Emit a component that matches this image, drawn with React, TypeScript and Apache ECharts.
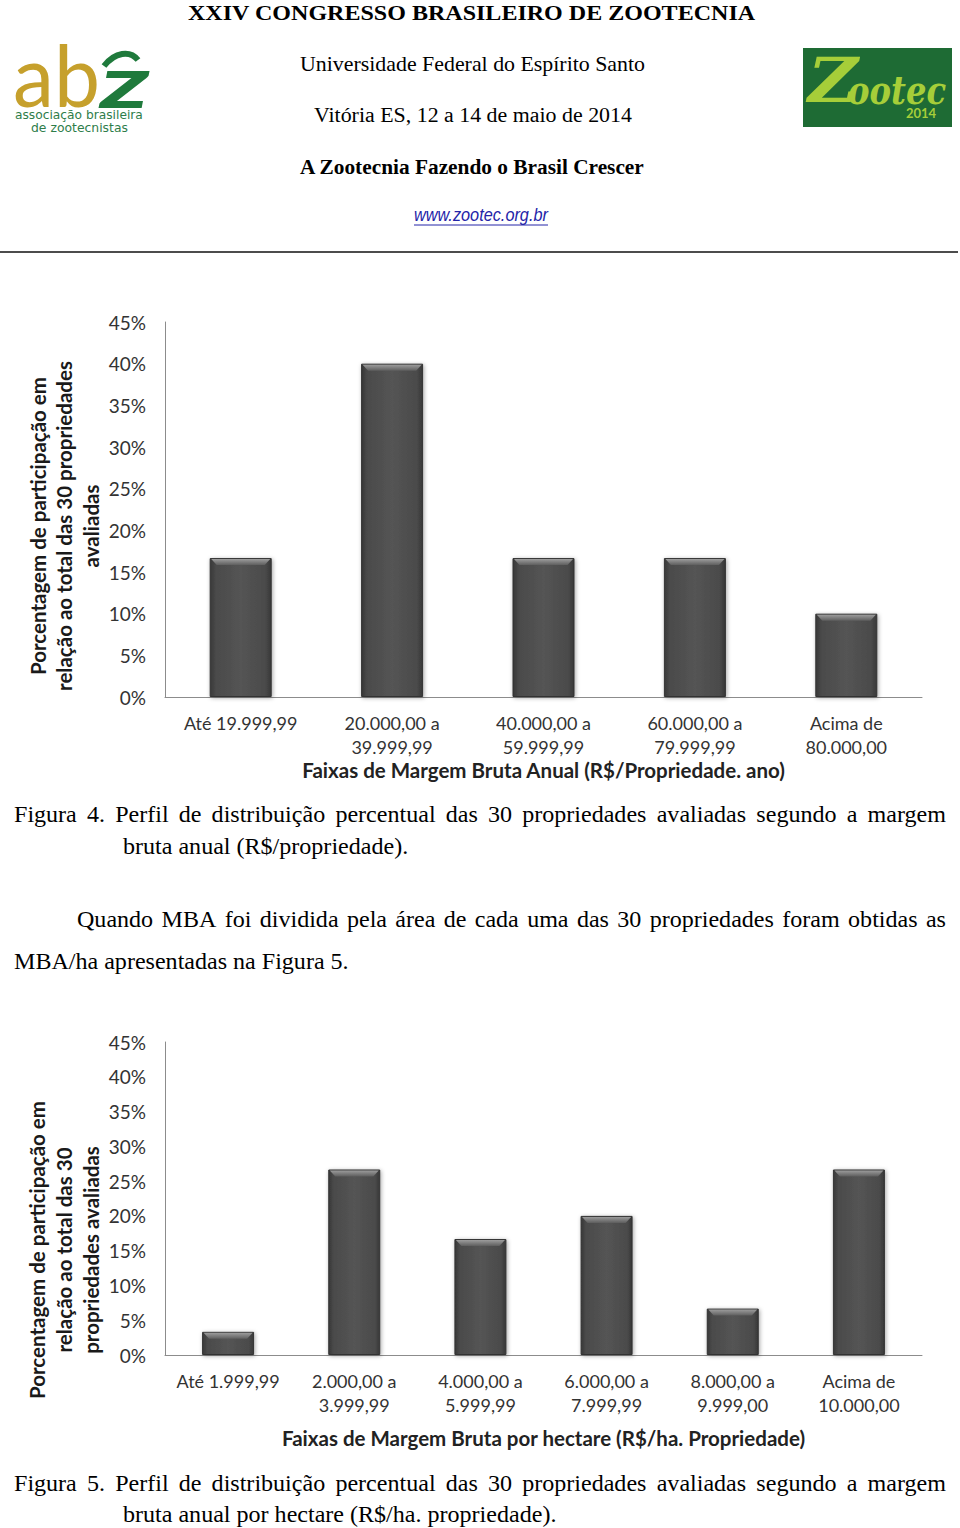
import React, { useEffect, useRef } from 'react';
import * as echarts from 'echarts';

// ---------- DATA ----------
const fig4Categories = [
  'Até 19.999,99',
  '20.000,00 a\n39.999,99',
  '40.000,00 a\n59.999,99',
  '60.000,00 a\n79.999,99',
  'Acima de\n80.000,00',
];
const fig4Values = [16.67, 40.0, 16.67, 16.67, 10.0];

const fig5Categories = [
  'Até 1.999,99',
  '2.000,00 a\n3.999,99',
  '4.000,00 a\n5.999,99',
  '6.000,00 a\n7.999,99',
  '8.000,00 a\n9.999,00',
  'Acima de\n10.000,00',
];
const fig5Values = [3.33, 26.67, 16.67, 20.0, 6.67, 26.67];

const yMin = 0;
const yMax = 45;
const yInterval = 5;

const fig4XTitle = 'Faixas de Margem Bruta Anual (R$/Propriedade. ano)';
const fig5XTitle = 'Faixas de Margem Bruta por hectare (R$/ha. Propriedade)';
const fig4YTitle = 'Porcentagem de participação em\nrelação ao total das 30 propriedades\navaliadas';
const fig5YTitle = 'Porcentagem de participação em\nrelação ao total das 30\npropriedades avaliadas';

const headerLines = [
  'XXIV CONGRESSO BRASILEIRO DE ZOOTECNIA',
  'Universidade Federal do Espírito Santo',
  'Vitória ES, 12 a 14 de maio de 2014',
  'A Zootecnia Fazendo o Brasil Crescer',
  'www.zootec.org.br',
];

const caption4 = [
  'Figura 4. Perfil de distribuição percentual das 30 propriedades avaliadas segundo a margem',
  'bruta anual (R$/propriedade).',
];
const paragraph = [
  'Quando MBA foi dividida pela área de cada uma das 30 propriedades foram obtidas as',
  'MBA/ha apresentadas na Figura 5.',
];
const caption5 = [
  'Figura 5. Perfil de distribuição percentual das 30 propriedades avaliadas segundo a margem',
  'bruta anual por hectare (R$/ha. propriedade).',
];

// ---------- helpers ----------
let mctx: CanvasRenderingContext2D | null = null;
function tw(text: string, font: string): number {
  if (!mctx) mctx = document.createElement('canvas').getContext('2d') as CanvasRenderingContext2D;
  mctx.font = font;
  return mctx.measureText(text).width;
}

function textEl(text: string, x: number, y: number, font: string, sx = 1, fill = '#000', align = 'left', extra: any = {}) {
  return {
    type: 'text',
    x,
    y,
    scaleX: sx,
    originX: 0,
    originY: 0,
    silent: true,
    ...extra,
    style: {
      text,
      font,
      fill,
      textAlign: align,
      align,
      textVerticalAlign: 'middle',
      verticalAlign: 'middle',
      ...(extra.style || {}),
    },
  };
}

function fitLeft(text: string, font: string, left: number, right: number, y: number, fill = '#000') {
  const sx = (right - left) / tw(text, font);
  return textEl(text, left, y, font, sx, fill, 'left');
}

function justified(text: string, font: string, left: number, right: number, y: number, sx: number, fill = '#000') {
  const words = text.split(' ');
  const widths = words.map((w) => tw(w, font) * sx);
  const total = widths.reduce((a, b) => a + b, 0);
  const gap = (right - left - total) / (words.length - 1);
  let x = left;
  return words.map((w, i) => {
    const el = textEl(w, x, y, font, sx, fill, 'left');
    x += widths[i] + gap;
    return el;
  });
}

const barStyle = {
  color: new echarts.graphic.LinearGradient(0, 0, 1, 0, [
    { offset: 0, color: '#383838' },
    { offset: 0.1, color: '#4b4b4b' },
    { offset: 0.5, color: '#545454' },
    { offset: 0.9, color: '#4b4b4b' },
    { offset: 1, color: '#383838' },
  ]),
  borderColor: '#333333',
  borderWidth: 1,
  shadowBlur: 4,
  shadowColor: 'rgba(0,0,0,0.35)',
  shadowOffsetX: 1,
  shadowOffsetY: 1,
};

const labelFont = 'Lato';

function xAxisCfg(gridIndex: number, data: string[], name: string, nameGap: number) {
  return {
    gridIndex,
    type: 'category',
    data,
    axisLine: { show: true, lineStyle: { color: '#8c8c8c', width: 1 } },
    axisTick: { show: false },
    axisLabel: {
      interval: 0,
      margin: 14,
      fontFamily: labelFont,
      fontSize: 18,
      lineHeight: 24,
      color: '#333333',
    },
    name,
    nameLocation: 'middle',
    nameGap,
    nameTextStyle: { fontFamily: labelFont, fontWeight: 'bold', fontSize: 20.5, color: '#222222' },
  };
}

function yAxisCfg(gridIndex: number) {
  return {
    gridIndex,
    type: 'value',
    min: yMin,
    max: yMax,
    interval: yInterval,
    axisLine: { show: true, lineStyle: { color: '#8c8c8c', width: 1 } },
    axisTick: { show: false },
    splitLine: { show: false },
    axisLabel: {
      formatter: '{value}%',
      margin: 19,
      fontFamily: labelFont,
      fontSize: 19,
      color: '#333333',
    },
  };
}

function bevelSeries(axisIndex: number, values: number[], barW: number) {
  return {
    type: 'custom',
    xAxisIndex: axisIndex,
    yAxisIndex: axisIndex,
    silent: true,
    z: 5,
    data: values.map((v, i) => [i, v]),
    encode: { x: 0, y: 1 },
    renderItem: (params: any, api: any) => {
      const p = api.coord([api.value(0), api.value(1)]);
      const half = barW / 2;
      const d = 7;
      return {
        type: 'polygon',
        shape: {
          points: [
            [p[0] - half + 1.5, p[1] + 1],
            [p[0] + half - 1.5, p[1] + 1],
            [p[0] + half - d, p[1] + d],
            [p[0] - half + d, p[1] + d],
          ],
        },
        style: {
          fill: new echarts.graphic.LinearGradient(0, 0, 0, 1, [
            { offset: 0, color: '#9c9c9c' },
            { offset: 1, color: '#5e5e5e' },
          ]),
        },
      };
    },
  };
}

export default function App() {
  const ref = useRef<HTMLDivElement>(null);

  useEffect(() => {
    if (!ref.current) return;
    const chart = echarts.init(ref.current, null, { renderer: 'svg' });

    const serif = '"Liberation Serif"';
    const bodyFont = `24px ${serif}`;
    const bodySx = 335 / tw(paragraph[1], bodyFont);

    const graphics: any[] = [];

    // Header
    graphics.push(fitLeft(headerLines[0], `bold 22px ${serif}`, 188, 756, 12));
    graphics.push(fitLeft(headerLines[1], `20px ${serif}`, 300, 645, 64));
    graphics.push(fitLeft(headerLines[2], `20px ${serif}`, 314, 632, 115));
    graphics.push(fitLeft(headerLines[3], `bold 20px ${serif}`, 300, 645, 167));
    graphics.push(fitLeft(headerLines[4], 'italic 18px "Liberation Sans"', 414, 548, 215, '#2424a8'));
    graphics.push({
      type: 'line',
      silent: true,
      shape: { x1: 414, y1: 225, x2: 548, y2: 225 },
      style: { stroke: '#2424a8', lineWidth: 1 },
    });
    graphics.push({
      type: 'line',
      silent: true,
      shape: { x1: 0, y1: 252, x2: 958, y2: 252 },
      style: { stroke: '#111', lineWidth: 1.5 },
    });

    // abz logo
    graphics.push(fitLeft('ab', '400 85px Lato', 13, 100, 74, '#c6a02c'));
    graphics.push(fitLeft('z', 'italic bold 72px Lato', 100, 150, 80, '#1f7a3c'));
    graphics.push({
      type: 'bezierCurve',
      silent: true,
      shape: { x1: 104, y1: 66, x2: 138, y2: 60, cpx1: 115, cpy1: 52, cpx2: 130, cpy2: 50 },
      style: { stroke: '#1f7a3c', lineWidth: 6, fill: null },
    });
    graphics.push(fitLeft('associação brasileira', '12px "DejaVu Sans"', 15, 143, 115, '#2e7d4a'));
    graphics.push(fitLeft('de zootecnistas', '12px "DejaVu Sans"', 31, 128, 128, '#2e7d4a'));

    // Zootec logo
    graphics.push({
      type: 'rect',
      silent: true,
      shape: { x: 803, y: 48, width: 149, height: 79 },
      style: { fill: '#1e6b34' },
    });
    graphics.push(fitLeft('Z', 'italic bold 62px "DejaVu Serif"', 808, 858, 80, '#a6ce39'));
    graphics.push(fitLeft('ootec', 'italic bold 40px "DejaVu Serif"', 848, 946, 90, '#a6ce39'));
    graphics.push(textEl('2014', 921, 113, 'bold 13px Lato', 1, '#a6ce39', 'center'));

    // Y axis titles (rotated)
    const yTitleStyle = { lineHeight: 26.5, fontWeight: 'bold', fontSize: 20.5, fontFamily: labelFont };
    graphics.push(
      textEl(fig4YTitle, 64, 526, `bold 20.5px ${labelFont}`, 1, '#1a1a1a', 'center', {
        rotation: Math.PI / 2,
        style: yTitleStyle,
      })
    );
    graphics.push(
      textEl(fig5YTitle, 64, 1250, `bold 20.5px ${labelFont}`, 1, '#1a1a1a', 'center', {
        rotation: Math.PI / 2,
        style: { ...yTitleStyle, lineHeight: 27 },
      })
    );

    // Captions & paragraph
    graphics.push(...justified(caption4[0], bodyFont, 14, 946, 814, bodySx));
    graphics.push(textEl(caption4[1], 123, 846, bodyFont, bodySx));
    graphics.push(...justified(paragraph[0], bodyFont, 77, 946, 919, bodySx));
    graphics.push(textEl(paragraph[1], 14, 961, bodyFont, bodySx));
    graphics.push(...justified(caption5[0], bodyFont, 14, 946, 1483, bodySx));
    graphics.push(textEl(caption5[1], 123, 1514, bodyFont, bodySx));

    chart.setOption({
      animation: false,
      backgroundColor: '#ffffff',
      grid: [
        { left: 165, top: 322, width: 757, height: 375 },
        { left: 165, top: 1042, width: 757, height: 313 },
      ],
      xAxis: [
        xAxisCfg(0, fig4Categories, fig4XTitle, 61),
        xAxisCfg(1, fig5Categories, fig5XTitle, 72),
      ],
      yAxis: [yAxisCfg(0), yAxisCfg(1)],
      series: [
        {
          type: 'bar',
          xAxisIndex: 0,
          yAxisIndex: 0,
          data: fig4Values,
          barWidth: 62,
          itemStyle: barStyle,
        },
        {
          type: 'bar',
          xAxisIndex: 1,
          yAxisIndex: 1,
          data: fig5Values,
          barWidth: 52,
          itemStyle: barStyle,
        },
        bevelSeries(0, fig4Values, 62),
        bevelSeries(1, fig5Values, 52),
      ],
      graphic: { elements: graphics },
    });

    return () => chart.dispose();
  }, []);

  return (
    <div
      ref={ref}
      style={{ position: 'absolute', left: 0, top: 0, width: 960, height: 1528, background: '#fff' }}
    />
  );
}
